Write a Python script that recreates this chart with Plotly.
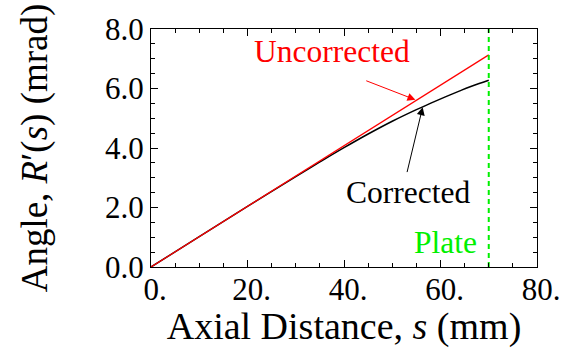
import plotly.graph_objects as go

# Data
s_unc = [0, 70]
r_unc = [0, 7.13]
s_cor = [0, 10, 20, 30, 35, 40, 45, 50, 55, 58, 61, 64, 66, 68, 70]
r_cor = [0, 1.02, 2.04, 3.04, 3.53, 4.01, 4.47, 4.90, 5.29, 5.51, 5.72, 5.92, 6.05, 6.17, 6.28]
plate_s = 70
x_ticks = [0, 20, 40, 60, 80]
x_ticktext = ["0.", "20.", "40.", "60.", "80."]
y_ticks = [0, 2, 4, 6, 8]
y_ticktext = ["0.0", "2.0", "4.0", "6.0", "8.0"]

FONT = "Liberation Serif"
GREEN = "#00f000"

fig = go.Figure()
fig.add_trace(go.Scatter(x=s_cor, y=r_cor, mode="lines", line_shape="spline",
                         line=dict(color="#000000", width=1.5), showlegend=False))
fig.add_trace(go.Scatter(x=s_unc, y=r_unc, mode="lines",
                         line=dict(color="#ff0000", width=1.2), showlegend=False))
fig.add_trace(go.Scatter(x=[plate_s, plate_s], y=[0, 8], mode="lines",
                         line=dict(color=GREEN, width=2, dash="5px,4px"), showlegend=False))

fig.add_annotation(x=54.8, y=5.62, ax=44.3, ay=6.28, axref="x", ayref="y",
                   text="", showarrow=True, arrowhead=2, arrowsize=1.6, arrowwidth=1,
                   arrowcolor="#ff0000")
fig.add_annotation(x=56.3, y=5.37, ax=53.0, ay=3.14, axref="x", ayref="y",
                   text="", showarrow=True, arrowhead=2, arrowsize=1.6, arrowwidth=1,
                   arrowcolor="#000000")
fig.add_annotation(x=37.6, y=7.24, text="Uncorrected", showarrow=False,
                   font=dict(family=FONT, size=31.5, color="#ff0000"))
fig.add_annotation(x=53.2, y=2.50, text="Corrected", showarrow=False,
                   font=dict(family=FONT, size=31.5, color="#000000"))
fig.add_annotation(x=61.0, y=0.81, text="Plate", showarrow=False,
                   font=dict(family=FONT, size=31.5, color=GREEN))

axis_common = dict(showline=True, linecolor="black", linewidth=1, mirror="ticks",
                   ticks="inside", ticklen=7, tickcolor="black", showgrid=False,
                   zeroline=False, automargin=False,
                   tickfont=dict(family=FONT, size=31, color="black"))

fig.update_xaxes(range=[0, 80], tickvals=x_ticks, ticktext=x_ticktext,
                 ticklabelshift=4, ticklabelstandoff=-5,
                 minor=dict(dtick=5, ticks="inside", ticklen=4, tickcolor="black"),
                 title=dict(text="Axial Distance, <i>s</i> (mm)",
                            font=dict(family=FONT, size=38, color="black"), standoff=2),
                 **axis_common)
fig.update_yaxes(range=[0, 8], tickvals=y_ticks, ticktext=y_ticktext,
                 minor=dict(dtick=0.5, ticks="inside", ticklen=4, tickcolor="black"),
                 title=dict(text="Angle, <i>R</i>′(<i>s</i>) (mrad)",
                            font=dict(family=FONT, size=37, color="black"), standoff=46),
                 **axis_common)

fig.update_layout(width=561, height=348, margin=dict(l=151, r=24, t=29, b=81),
                  plot_bgcolor="white", paper_bgcolor="white",
                  font=dict(family=FONT))
fig.write_html("out.html")
